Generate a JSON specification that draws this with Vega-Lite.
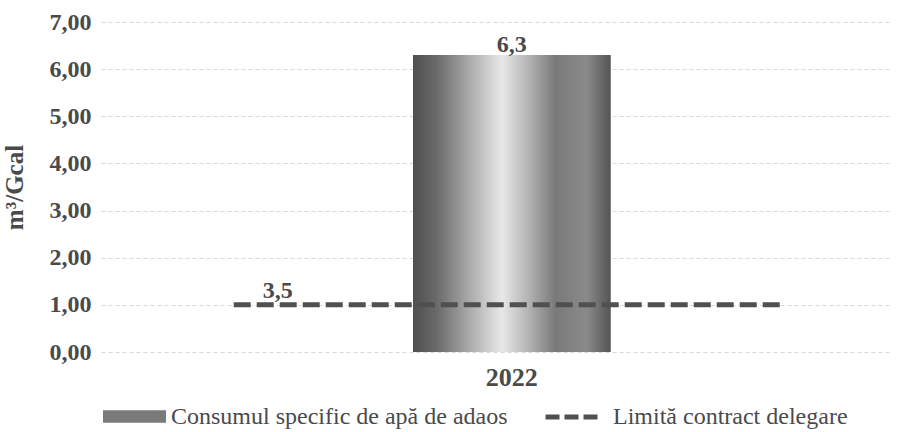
{
  "$schema": "https://vega.github.io/schema/vega-lite/v6.json",
  "width": 790,
  "height": 330,
  "padding": {"left": 2, "right": 5, "top": 10, "bottom": 0},
  "background": "white",
  "datasets": {
    "bars": [{"year": "2022", "value": 6.3, "series": "Consumul specific de apă de adaos", "label": "6,3"}],
    "limit": [{"start": 0.168, "end": 0.866, "value": 1, "series": "Limită contract delegare", "label": "3,5"}]
  },
  "layer": [
    {
      "data": {"name": "bars"},
      "encoding": {
        "x": {"field": "year", "type": "nominal", "scale": {"paddingInner": 0, "paddingOuter": 1, "align": 0.53},
              "axis": {"title": null, "labelAngle": 0, "labelFont": "Liberation Serif", "labelFontSize": 26, "labelFontWeight": "bold", "labelColor": "#4a4a4a", "domain": false, "ticks": false, "labelPadding": 12}},
        "y": {"field": "value", "type": "quantitative", "scale": {"domain": [0, 7]},
              "axis": {"title": "m³/Gcal", "titleFont": "Liberation Serif", "titleFontSize": 25, "titleFontWeight": "bold", "titleColor": "#4a4a4a", "titlePadding": 22,
                       "values": [0, 1, 2, 3, 4, 5, 6, 7], "labelExpr": "replace(format(datum.value, '.2f'), '.', ',')",
                       "labelFont": "Liberation Serif", "labelFontSize": 24, "labelFontWeight": "bold", "labelColor": "#4a4a4a", "labelPadding": 10,
                       "domain": false, "ticks": false, "grid": true, "gridColor": "#d8d8d8", "gridDash": [4, 3]}}
      },
      "layer": [
        {
          "mark": {"type": "bar", "width": {"band": 0.75}},
          "encoding": {
            "fill": {"field": "series", "type": "nominal",
                     "scale": {"range": ["#7a7a7a"]},
                     "legend": {"title": null, "orient": "none", "legendX": 2, "legendY": 363, "padding": 0, "labelFont": "Liberation Serif", "labelFontSize": 24, "labelColor": "#4a4a4a", "labelOffset": 5, "symbolType": "M-1,-0.2H1V0.2H-1Z", "symbolSize": 3969, "symbolStrokeWidth": 0, "labelLimit": 500}}
          }
        },
        {
          "mark": {"type": "bar", "width": {"band": 0.75}, "color": {"gradient": "linear", "x1": 0, "x2": 1, "y1": 0, "y2": 0,
                   "stops": [{"offset": 0, "color": "#4f4f4f"}, {"offset": 0.12, "color": "#6a6a6a"}, {"offset": 0.28, "color": "#a8a8a8"}, {"offset": 0.45, "color": "#e8e8e8"}, {"offset": 0.58, "color": "#b5b5b5"}, {"offset": 0.72, "color": "#7a7a7a"}, {"offset": 0.88, "color": "#8a8a8a"}, {"offset": 1, "color": "#555555"}]}}
        },
        {
          "mark": {"type": "text", "font": "Liberation Serif", "fontSize": 24, "fontWeight": "bold", "color": "#4a4a4a", "dy": -10},
          "encoding": {"text": {"field": "label"}}
        }
      ]
    },
    {
      "data": {"name": "limit"},
      "encoding": {
        "x": {"field": "start", "type": "quantitative", "scale": {"domain": [0, 1]}, "axis": null},
        "y": {"field": "value", "type": "quantitative"}
      },
      "layer": [
        {
          "mark": {"type": "rule", "strokeWidth": 5, "strokeDash": [17, 6]},
          "encoding": {
            "x2": {"field": "end"},
            "stroke": {"field": "series", "type": "nominal",
                       "scale": {"range": ["#505050"]},
                       "legend": {"title": null, "orient": "none", "legendX": 442, "legendY": 364, "padding": 0, "labelFont": "Liberation Serif", "labelFontSize": 24, "labelColor": "#4a4a4a", "labelOffset": 8, "symbolType": "stroke", "symbolStrokeWidth": 5, "symbolDash": [14, 5], "symbolSize": 3249, "labelLimit": 500}}
          }
        },
        {
          "mark": {"type": "text", "font": "Liberation Serif", "fontSize": 24, "fontWeight": "bold", "color": "#4a4a4a", "dy": -14, "dx": 44},
          "encoding": {"text": {"field": "label"}}
        }
      ]
    }
  ],
  "resolve": {"scale": {"x": "independent"}, "axis": {"x": "independent"}},
  "config": {"view": {"stroke": null}}
}
